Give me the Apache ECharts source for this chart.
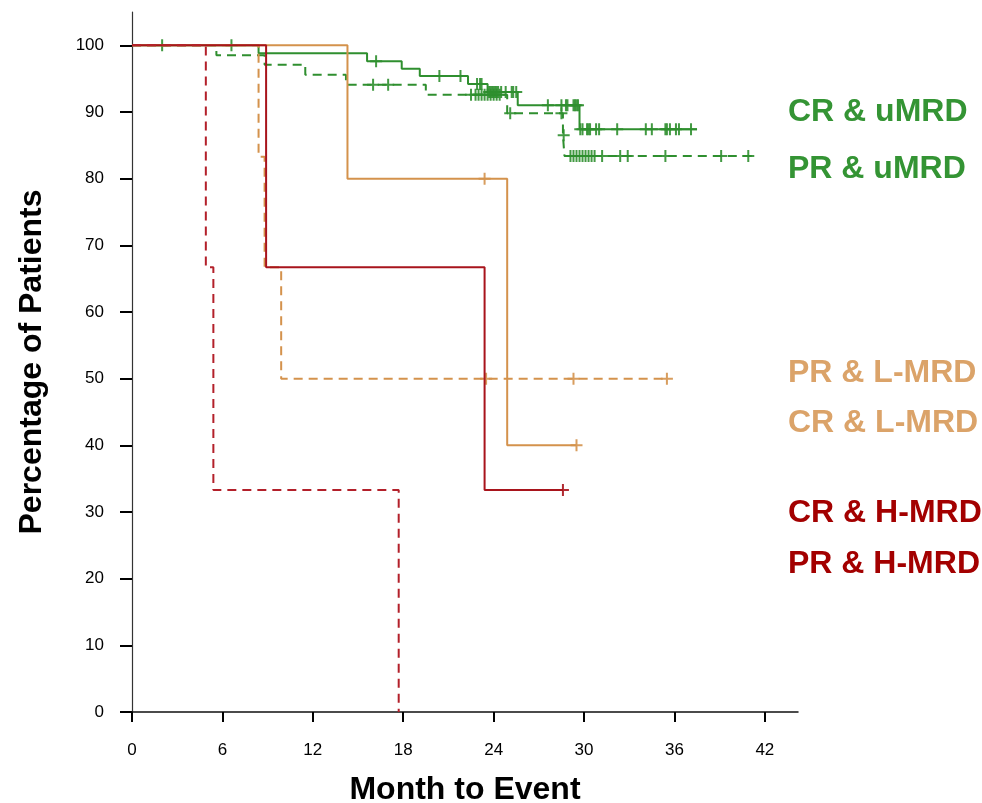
<!DOCTYPE html>
<html>
<head>
<meta charset="utf-8">
<script src="https://cdn.jsdelivr.net/npm/echarts@6/dist/echarts.min.js"></script>
<style>
html,body{margin:0;padding:0;background:#fff;}
#chart{width:982px;height:803px;}
</style>
</head>
<body>
<div id="chart"></div>
<script>
// ---- Data ----
const xTicks = [0, 6, 12, 18, 24, 30, 36, 42];
const yTicks = [0, 10, 20, 30, 40, 50, 60, 70, 80, 90, 100];

const groupNames = ['CR & uMRD', 'PR & uMRD', 'PR & L-MRD', 'CR & L-MRD', 'CR & H-MRD', 'PR & H-MRD'];

const crUmrdTime = [0, 8.4, 15.6, 17.9, 19.1, 22.3, 23.6, 25.6, 29.7, 37.5];
const crUmrdSurv = [100, 98.8, 97.6, 96.5, 95.4, 94.2, 93.0, 91.0, 87.4, 87.4];
const crUmrdCens = [6.6, 16.2, 20.4, 21.8, 22.9, 23.1, 23.2, 23.7, 23.8, 23.9, 24.0, 24.1, 24.2, 24.3, 24.5, 24.8, 25.2, 25.3, 25.5,
  27.6, 28.5, 28.8, 28.9, 29.3, 29.4, 29.5, 29.6, 29.75, 29.9, 30.2, 30.3, 30.4, 30.8, 31.0, 32.2, 34.1, 34.5, 35.4, 35.5, 35.7, 36.1, 36.3, 37.1];

const prUmrdTime = [0, 5.6, 8.8, 11.5, 14.2, 19.5, 24.9, 28.6, 28.7, 41.3];
const prUmrdSurv = [100, 98.5, 97.1, 95.6, 94.1, 92.6, 89.8, 86.5, 83.4, 83.4];
const prUmrdCens = [2.0, 16.0, 17.0, 22.5, 22.8, 23.0, 23.2, 23.4, 23.6, 23.8, 24.0, 24.2, 24.4, 25.1, 28.5, 28.65,
  29.1, 29.3, 29.5, 29.7, 29.9, 30.1, 30.3, 30.5, 30.7, 31.2, 32.4, 32.9, 35.4, 39.1, 40.9];

const crLmrdTime = [0, 14.3, 24.9, 29.5];
const crLmrdSurv = [100, 80, 40, 40];
const crLmrdCens = [23.4, 29.5];

const prLmrdTime = [0, 8.4, 8.8, 9.9, 35.5];
const prLmrdSurv = [100, 83.3, 66.7, 50, 50];
const prLmrdCens = [23.5, 29.3, 35.5];

const crHmrdTime = [0, 8.9, 23.4, 28.6];
const crHmrdSurv = [100, 66.7, 33.3, 33.3];
const crHmrdCens = [28.6];

const prHmrdTime = [0, 4.9, 5.4, 17.7];
const prHmrdSurv = [100, 66.7, 33.3, 0];
const prHmrdCens = [];

// ---- Styles ----
const GREEN = '#2f8f2f', GREEN_TXT = '#349434';
const TAN = '#d4924c', TAN_TXT = '#dba369';
const RED = '#a8141c', RED_D = '#b3202a', RED_TXT = '#a30000';
const FONT = '"Liberation Sans", Arial, Helvetica, sans-serif';
const PLUS = 'path://M5,0h2v5h5v2h-5v5h-2v-5h-5v-2h5z';

function pairs(t, s) { return t.map((v, i) => [v, s[i]]); }
function survAt(t, s, x) {
  let v = s[0];
  for (let i = 0; i < t.length; i++) { if (t[i] <= x) v = s[i]; }
  return v;
}
function censPts(ct, t, s) { return ct.map(x => [x, survAt(t, s, x)]); }

function lineSeries(name, t, s, color, dashed, z) {
  return {
    name: name, type: 'line', step: 'end', data: pairs(t, s),
    symbol: 'none', z: z, animation: false,
    lineStyle: { color: color, width: 2, type: dashed ? [9, 6] : 'solid' }
  };
}
function censSeries(name, ct, t, s, color, z) {
  return {
    name: name + ' censored', type: 'scatter', data: censPts(ct, t, s),
    symbol: PLUS, symbolSize: 12, z: z, animation: false,
    itemStyle: { color: color, opacity: 0.9 }
  };
}

const series = [
  lineSeries(groupNames[1], prUmrdTime, prUmrdSurv, GREEN, true, 2),
  censSeries(groupNames[1], prUmrdCens, prUmrdTime, prUmrdSurv, GREEN, 3),
  lineSeries(groupNames[0], crUmrdTime, crUmrdSurv, GREEN, false, 2),
  censSeries(groupNames[0], crUmrdCens, crUmrdTime, crUmrdSurv, GREEN, 3),
  lineSeries(groupNames[3], crLmrdTime, crLmrdSurv, TAN, false, 4),
  censSeries(groupNames[3], crLmrdCens, crLmrdTime, crLmrdSurv, TAN, 5),
  lineSeries(groupNames[2], prLmrdTime, prLmrdSurv, TAN, true, 4),
  censSeries(groupNames[2], prLmrdCens, prLmrdTime, prLmrdSurv, TAN, 5),
  lineSeries(groupNames[4], crHmrdTime, crHmrdSurv, RED, false, 6),
  censSeries(groupNames[4], crHmrdCens, crHmrdTime, crHmrdSurv, RED, 7),
  lineSeries(groupNames[5], prHmrdTime, prHmrdSurv, RED_D, true, 6)
];

const legendText = [
  { name: groupNames[0], color: GREEN_TXT, y: 109 },
  { name: groupNames[1], color: GREEN_TXT, y: 166 },
  { name: groupNames[2], color: TAN_TXT, y: 370 },
  { name: groupNames[3], color: TAN_TXT, y: 420 },
  { name: groupNames[4], color: RED_TXT, y: 510 },
  { name: groupNames[5], color: RED_TXT, y: 561 }
];

const chart = echarts.init(document.getElementById('chart'), null, { renderer: 'canvas' });
chart.setOption({
  backgroundColor: '#fff',
  animation: false,
  grid: { left: 132, right: 184, top: 12, bottom: 91, containLabel: false, outerBoundsMode: 'none' },
  xAxis: {
    type: 'value', min: 0, max: 44.2,
    name: 'Month to Event', nameLocation: 'middle', nameGap: 62,
    nameTextStyle: { fontFamily: FONT, fontSize: 32, fontWeight: 'bold', color: '#000' },
    axisLine: { show: true, lineStyle: { color: '#111', width: 1.5 } },
    axisTick: { show: true, length: 10, customValues: xTicks, lineStyle: { color: '#000', width: 2 } },
    axisLabel: { customValues: xTicks, margin: 30, fontFamily: FONT, fontSize: 17, color: '#000' },
    splitLine: { show: false }
  },
  yAxis: {
    type: 'value', min: 0, max: 105,
    name: 'Percentage of Patients', nameLocation: 'middle', nameGap: 84,
    nameTextStyle: { fontFamily: FONT, fontSize: 32, fontWeight: 'bold', color: '#000' },
    axisLine: { show: true, lineStyle: { color: '#333', width: 1.2 } },
    axisTick: { show: true, length: 12, customValues: yTicks, lineStyle: { color: '#000', width: 2 } },
    axisLabel: { customValues: yTicks, margin: 28, fontFamily: FONT, fontSize: 17, color: '#000' },
    splitLine: { show: false }
  },
  graphic: legendText.map(l => ({
    type: 'text', left: 788, top: l.y - 13,
    style: { text: l.name, fill: l.color, font: 'bold 32px ' + FONT }
  })),
  series: series
});
</script>
</body>
</html>
